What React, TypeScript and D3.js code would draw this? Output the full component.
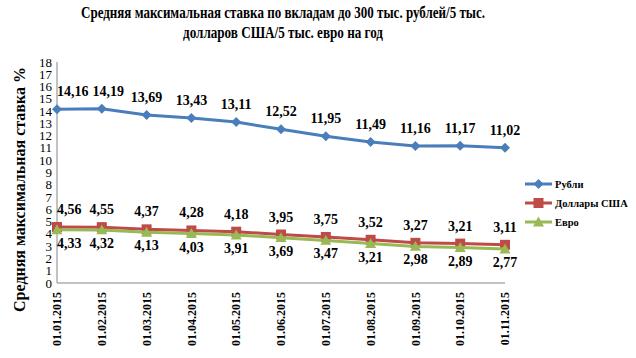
import React from "react";
import * as d3 from "d3";

const categories = ["01.01.2015","01.02.2015","01.03.2015","01.04.2015","01.05.2015","01.06.2015","01.07.2015","01.08.2015","01.09.2015","01.10.2015","01.11.2015"];
const rubles = [14.16,14.19,13.69,13.43,13.11,12.52,11.95,11.49,11.16,11.17,11.02];
const dollars = [4.56,4.55,4.37,4.28,4.18,3.95,3.75,3.52,3.27,3.21,3.11];
const euros = [4.33,4.32,4.13,4.03,3.91,3.69,3.47,3.21,2.98,2.89,2.77];
const yTicks = d3.range(0, 19, 1);
const seriesNames = ["Рубли", "Доллары США", "Евро"];
const titleLines = ["Средняя максимальная ставка по вкладам до 300 тыс. рублей/5 тыс.", "долларов США/5 тыс. евро на год"];
const yTitle = "Средняя максимальная ставка %";

const W = 636, H = 358;
const left = 57, right = 505, top = 62, bottom = 283;
const TS = { fontFamily: '"Liberation Serif"' };

const fmt = (v: number) => v.toFixed(2).replace(".", ",");

type Series = { name: string; values: number[]; color: string; marker: string; labelPos: "above" | "below" };
const series: Series[] = [
  { name: seriesNames[0], values: rubles, color: "#4A7EBB", marker: "diamond", labelPos: "above" },
  { name: seriesNames[1], values: dollars, color: "#BE4B48", marker: "square", labelPos: "above" },
  { name: seriesNames[2], values: euros, color: "#98B954", marker: "triangle", labelPos: "below" },
];

function Marker({ type, x, y, color }: { type: string; x: number; y: number; color: string }) {
  if (type === "diamond") {
    const s = 5;
    return <path d={`M${x},${y - s}L${x + s},${y}L${x},${y + s}L${x - s},${y}Z`} fill={color} />;
  }
  if (type === "square") {
    const s = 5;
    return <rect x={x - s} y={y - s} width={2 * s} height={2 * s} fill={color} />;
  }
  const s = 5.5;
  return <path d={`M${x},${y - s}L${x + s},${y + s * 0.8}L${x - s},${y + s * 0.8}Z`} fill={color} />;
}

export default function App() {
  const x = d3.scalePoint<string>().domain(categories).range([left, right]);
  const y = d3.scaleLinear().domain([0, 18]).range([bottom, top]);
  const line = d3.line<number>().x((_, i) => x(categories[i])!).y((d) => y(d));

  const labelW = (s: string) => s.length * 7 - 3.5; // approx width at 14px

  return (
    <svg width={W} height={H} style={{ position: "absolute", left: 0, top: 0, background: "#fff" }}>
      <text x={283} y={18} textAnchor="middle" fontSize={17.5} fontWeight="bold" style={TS} textLength={404} lengthAdjust="spacingAndGlyphs">
        {titleLines[0]}
      </text>
      <text x={283} y={38} textAnchor="middle" fontSize={17.5} fontWeight="bold" style={TS} textLength={200} lengthAdjust="spacingAndGlyphs">
        {titleLines[1]}
      </text>
      <text transform={`translate(25,${(67 + 312) / 2}) rotate(-90)`} textAnchor="middle" fontSize={16} fontWeight="bold" style={TS}>
        {yTitle}
      </text>

      {yTicks.map((t) => (
        <text key={t} x={left - 5} y={y(t)} dy="0.35em" textAnchor="end" fontSize={13} style={TS}>
          {t}
        </text>
      ))}
      <line x1={left} x2={left} y1={top} y2={bottom} stroke="#868686" strokeWidth={1} />
      <line x1={left} x2={right} y1={bottom} y2={bottom} stroke="#868686" strokeWidth={1} />

      {categories.map((c) => (
        <text key={c} transform={`translate(${x(c)},${bottom + 9}) rotate(-90)`} dy="0.35em" textAnchor="end" fontSize={12} fontWeight="bold" style={TS}>
          {c}
        </text>
      ))}

      {series.map((s) => (
        <g key={s.name}>
          <path d={line(s.values)!} fill="none" stroke={s.color} strokeWidth={3} strokeLinejoin="round" />
          {s.values.map((v, i) => (
            <Marker key={i} type={s.marker} x={x(categories[i])!} y={y(v)} color={s.color} />
          ))}
        </g>
      ))}

      {series.map((s) => {
        let prevRight = -Infinity;
        return (
          <g key={s.name + "-lbl"}>
            {s.values.map((v, i) => {
              const txt = fmt(v);
              const w = labelW(txt);
              let cx = Math.max(x(categories[i])!, left + w / 2);
              cx = Math.max(cx, prevRight + 4 + w / 2);
              prevRight = cx + w / 2;
              const ly = s.labelPos === "above" ? y(v) - 13 : y(v) + 18;
              return (
                <text key={i} x={cx} y={ly} textAnchor="middle" fontSize={14} fontWeight="bold" style={TS}>
                  {txt}
                </text>
              );
            })}
          </g>
        );
      })}

      {series.map((s, i) => {
        const ly = 184 + i * 19;
        return (
          <g key={s.name + "-leg"}>
            <line x1={525} x2={552} y1={ly} y2={ly} stroke={s.color} strokeWidth={3} />
            <Marker type={s.marker} x={538.5} y={ly} color={s.color} />
            <text x={555} y={ly} dy="0.35em" fontSize={10.5} fontWeight="bold" style={TS}>
              {s.name}
            </text>
          </g>
        );
      })}
    </svg>
  );
}
